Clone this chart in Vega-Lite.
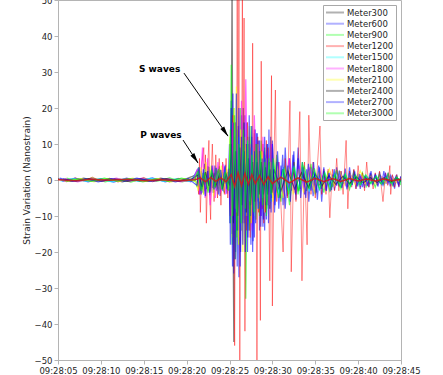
{
  "$schema": "https://vega.github.io/schema/vega-lite/v6.json",
  "width": 343,
  "height": 360,
  "autosize": {"type": "none"},
  "padding": {"left": 58, "top": 0, "right": 42, "bottom": 15},
  "background": "white",
  "config": {
    "font": "DejaVu Sans",
    "view": {"stroke": "#b4b4b4", "strokeWidth": 1},
    "axis": {"domainColor": "#b4b4b4", "tickColor": "#b4b4b4", "labelColor": "#262626", "labelFontSize": 8.5, "grid": false, "titleColor": "#262626", "titleFontWeight": "normal", "titleFontSize": 9},
    "legend": {"labelFont": "DejaVu Sans"}
  },
  "encoding": {
    "x": {"field": "t", "type": "quantitative", "scale": {"domain": [5, 45], "nice": false, "zero": false},
      "axis": {"title": null, "values": [5, 10, 15, 20, 25, 30, 35, 40, 45], "labelExpr": "'09:28:' + (datum.value < 10 ? '0' : '') + datum.value", "labelFlush": false, "labelOverlap": false, "tickSize": 4, "labelPadding": 2}},
    "y": {"field": "v", "type": "quantitative", "scale": {"domain": [-50, 50], "nice": false, "zero": false},
      "axis": {"title": "Strain Variation (Nanostrain)", "values": [-50, -40, -30, -20, -10, 0, 10, 20, 30, 40, 50], "labelFlush": false, "labelOverlap": false, "tickSize": 4, "labelPadding": 2, "titlePadding": 3}}
  },
  "layer": [
    {
      "data": {"values": [
        {"t":5.0,"v":0.3},{"t":6.5,"v":-0.4},{"t":8.0,"v":0.5},{"t":9.5,"v":-0.3},{"t":11.0,"v":0.4},{"t":12.5,"v":-0.5},{"t":14.0,"v":0.3},{"t":15.5,"v":-0.4},{"t":17.0,"v":0.5},{"t":18.5,"v":-0.3},{"t":20.0,"v":0.4},
        {"t":21.2,"v":1.5},{"t":21.4,"v":-2},{"t":21.6,"v":1},{"t":21.8,"v":-2.5},{"t":22.0,"v":2},{"t":22.2,"v":-1.2},{"t":22.4,"v":2.4},{"t":22.6,"v":-1.8},{"t":22.8,"v":1},{"t":23.0,"v":-2.2},{"t":23.2,"v":2},{"t":23.4,"v":-1.4},{"t":23.6,"v":2.6},{"t":23.8,"v":-1.6},{"t":24.0,"v":1.2},{"t":24.2,"v":-2.4},{"t":24.4,"v":1.8},{"t":24.6,"v":-1},{"t":24.8,"v":2.2},{"t":25.0,"v":-1.5},
        {"t":25.2,"v":8},{"t":25.3,"v":58},{"t":25.4,"v":-10},{"t":25.5,"v":-45},{"t":25.6,"v":12},{"t":25.8,"v":-14},{"t":26.0,"v":10},{"t":26.2,"v":-12},{"t":26.4,"v":9},{"t":26.6,"v":-11},{"t":26.8,"v":8},{"t":27.0,"v":-9},{"t":27.2,"v":7},{"t":27.4,"v":-8},{"t":27.6,"v":6},{"t":27.8,"v":-7},{"t":28.0,"v":6},{"t":28.2,"v":-5},{"t":28.4,"v":7},{"t":28.6,"v":-6},{"t":28.8,"v":5},{"t":29.0,"v":-6},{"t":29.2,"v":4},{"t":29.4,"v":-5},{"t":29.6,"v":4},{"t":29.8,"v":-4},{"t":30.0,"v":3},
        {"t":30.6,"v":-3.5},{"t":31.2,"v":3},{"t":31.8,"v":-3},{"t":32.4,"v":2.5},{"t":33.0,"v":-2.8},{"t":33.6,"v":2},{"t":34.2,"v":-2.2},{"t":34.8,"v":2},{"t":35.4,"v":-1.8},{"t":36.0,"v":1.6},{"t":36.6,"v":-1.5},{"t":37.2,"v":1.4},{"t":37.8,"v":-1.3},{"t":38.4,"v":1.2},{"t":39.0,"v":-1.2},{"t":39.6,"v":1},{"t":40.2,"v":-1},{"t":40.8,"v":1},{"t":41.4,"v":-0.9},{"t":42.0,"v":0.8},{"t":42.6,"v":-0.9},{"t":43.2,"v":0.8},{"t":43.8,"v":-0.7},{"t":44.4,"v":0.7},{"t":45.0,"v":-0.6}
      ]},
      "mark": {"type": "line", "clip": true, "strokeWidth": 1.2, "strokeOpacity": 0.5},
      "encoding": {"color": {"datum": "Meter300", "type": "nominal",
        "scale": {"domain": ["Meter300","Meter600","Meter900","Meter1200","Meter1500","Meter1800","Meter2100","Meter2400","Meter2700","Meter3000"],
                  "range": ["#000000","#0000ff","#00ff00","#ff0000","#00ffff","#ff00ff","#ffff00","#000000","#0000ff","#00ff00"]},
        "legend": {"title": null, "orient": "top-right", "offset": 5, "strokeColor": "#a8a8a8", "fillColor": "white", "padding": 2, "symbolType": "M-2,0H2", "symbolSize": 81, "symbolOffset": 4.5, "symbolStrokeWidth": 2, "symbolOpacity": 0.3, "labelFontSize": 8.5, "labelColor": "#262626", "rowPadding": 1.2, "labelOffset": 6.5}}}
    },
    {
      "data": {"values": [
        {"t":5.5,"v":-0.4},{"t":7.0,"v":0.5},{"t":8.5,"v":-0.5},{"t":10.0,"v":0.4},{"t":11.5,"v":-0.6},{"t":13.0,"v":0.5},{"t":14.5,"v":-0.4},{"t":16.0,"v":0.6},{"t":17.5,"v":-0.5},{"t":19.0,"v":0.4},{"t":20.5,"v":-0.5},
        {"t":21.3,"v":3},{"t":21.5,"v":-4},{"t":21.7,"v":2.5},{"t":21.9,"v":-3.5},{"t":22.1,"v":4.5},{"t":22.3,"v":-2.5},{"t":22.5,"v":3.8},{"t":22.7,"v":-4.2},{"t":22.9,"v":2},{"t":23.1,"v":-3.6},{"t":23.3,"v":4},{"t":23.5,"v":-3},{"t":23.7,"v":3.2},{"t":23.9,"v":-4.4},{"t":24.1,"v":2.8},{"t":24.3,"v":-3.2},{"t":24.5,"v":4.2},{"t":24.7,"v":-3.8},{"t":24.9,"v":3},
        {"t":25.0,"v":10},{"t":25.1,"v":-18},{"t":25.2,"v":22},{"t":25.3,"v":-15},{"t":25.4,"v":24},{"t":25.5,"v":-26},{"t":25.6,"v":12},{"t":25.7,"v":-20},{"t":25.8,"v":8},{"t":25.9,"v":-24},{"t":26.0,"v":15},{"t":26.1,"v":-27},{"t":26.2,"v":10},{"t":26.3,"v":-20},{"t":26.4,"v":18},{"t":26.5,"v":-12},
        {"t":26.6,"v":20},{"t":26.7,"v":-12},{"t":26.8,"v":18},{"t":26.9,"v":-8},{"t":27.0,"v":16},{"t":27.1,"v":-20},{"t":27.2,"v":10},{"t":27.3,"v":-14},{"t":27.4,"v":6},{"t":27.5,"v":-18},{"t":27.6,"v":12},{"t":27.7,"v":-20},{"t":27.8,"v":8},{"t":27.9,"v":-16},{"t":28.0,"v":14},
        {"t":28.1,"v":-7},{"t":28.2,"v":13},{"t":28.3,"v":-6},{"t":28.4,"v":11},{"t":28.5,"v":-14},{"t":28.6,"v":7},{"t":28.7,"v":-10},{"t":28.8,"v":4},{"t":28.9,"v":-13},{"t":29.0,"v":8},{"t":29.1,"v":-14},{"t":29.2,"v":6},{"t":29.3,"v":-11},{"t":29.4,"v":10},{"t":29.5,"v":-7},{"t":29.6,"v":14},{"t":29.7,"v":-8},{"t":29.8,"v":12},{"t":29.9,"v":-5},{"t":30.0,"v":11},
        {"t":30.25,"v":-9},{"t":30.5,"v":5},{"t":30.75,"v":-8},{"t":31.0,"v":4},{"t":31.25,"v":-7},{"t":31.5,"v":9},{"t":31.75,"v":-4.5},{"t":32.0,"v":6},{"t":32.25,"v":-3},{"t":32.5,"v":8},{"t":32.75,"v":-5.5},{"t":33.0,"v":9},
        {"t":33.25,"v":-2.5},{"t":33.5,"v":5},{"t":33.75,"v":-4},{"t":34.0,"v":3},{"t":34.25,"v":-6},{"t":34.5,"v":3.5},{"t":34.75,"v":-4.5},{"t":35.0,"v":2},{"t":35.25,"v":-5.5},{"t":35.5,"v":3.5},{"t":35.75,"v":-6},{"t":36.0,"v":2.5},
        {"t":36.25,"v":-3},{"t":36.5,"v":1.8},{"t":36.75,"v":-3.2},{"t":37.0,"v":1.5},{"t":37.25,"v":-2.8},{"t":37.5,"v":3.5},{"t":37.75,"v":-1.8},{"t":38.0,"v":2.4},{"t":38.25,"v":-1},{"t":38.5,"v":3.2},{"t":38.75,"v":-2},{"t":39.0,"v":3.5},{"t":39.25,"v":-1.4},{"t":39.5,"v":2.8},{"t":39.75,"v":-2.4},{"t":40.0,"v":1.8},
        {"t":40.25,"v":-2.5},{"t":40.5,"v":1.5},{"t":40.75,"v":-2.2},{"t":41.0,"v":1},{"t":41.25,"v":-2},{"t":41.5,"v":2.5},{"t":41.75,"v":-1.2},{"t":42.0,"v":1.8},{"t":42.25,"v":-0.8},{"t":42.5,"v":2.2},{"t":42.75,"v":-1.5},{"t":43.0,"v":2.5},{"t":43.25,"v":-1},{"t":43.5,"v":2},{"t":43.75,"v":-1.8},{"t":44.0,"v":1.2},{"t":44.25,"v":-2.4},{"t":44.5,"v":1.5},{"t":44.75,"v":-2},{"t":45.0,"v":1}
      ]},
      "mark": {"type": "line", "clip": true, "strokeWidth": 1.2, "strokeOpacity": 0.6},
      "encoding": {"color": {"datum": "Meter600", "type": "nominal"}}
    },
    {
      "data": {"values": [
        {"t":6.0,"v":0.5},{"t":7.5,"v":-0.4},{"t":9.0,"v":0.6},{"t":10.5,"v":-0.5},{"t":12.0,"v":0.4},{"t":13.5,"v":-0.6},{"t":15.0,"v":0.5},{"t":16.5,"v":-0.4},{"t":18.0,"v":0.6},{"t":19.5,"v":-0.5},{"t":21.0,"v":0.4},
        {"t":21.2,"v":-2},{"t":21.4,"v":3.5},{"t":21.6,"v":-3},{"t":21.8,"v":2},{"t":22.0,"v":-4},{"t":22.2,"v":3},{"t":22.4,"v":-2.2},{"t":22.6,"v":3.6},{"t":22.8,"v":-3.2},{"t":23.0,"v":1.8},{"t":23.2,"v":-3.4},{"t":23.4,"v":3.2},{"t":23.6,"v":-2.4},{"t":23.8,"v":3.8},{"t":24.0,"v":-2.6},{"t":24.2,"v":2.2},{"t":24.4,"v":-3.6},{"t":24.6,"v":3},{"t":24.8,"v":-2.8},{"t":25.0,"v":4},
        {"t":25.1,"v":-12},{"t":25.2,"v":32},{"t":25.3,"v":-18},{"t":25.5,"v":20},{"t":25.7,"v":-22},{"t":25.9,"v":14},{"t":26.1,"v":-18},{"t":26.3,"v":20},{"t":26.5,"v":-10},{"t":26.7,"v":16},{"t":26.9,"v":-33},{"t":27.1,"v":12},{"t":27.3,"v":-14},{"t":27.5,"v":15},{"t":27.7,"v":-9},{"t":27.9,"v":13},{"t":28.1,"v":-11},{"t":28.3,"v":8},{"t":28.5,"v":-10},{"t":28.7,"v":11},{"t":28.9,"v":-6},{"t":29.1,"v":9},{"t":29.3,"v":-10},{"t":29.5,"v":5},{"t":29.7,"v":-8},{"t":29.9,"v":9},{"t":30.1,"v":-5},
        {"t":30.5,"v":7},{"t":31.0,"v":-6},{"t":31.5,"v":4},{"t":32.0,"v":-7},{"t":32.5,"v":5},{"t":33.0,"v":-4},{"t":33.5,"v":5},{"t":34.0,"v":-3},{"t":34.5,"v":4.5},{"t":35.0,"v":-4},{"t":35.5,"v":2.5},{"t":36.0,"v":-3.5},{"t":36.5,"v":2.5},{"t":37.0,"v":-2},{"t":37.5,"v":2.8},{"t":38.0,"v":-2.4},{"t":38.5,"v":1.6},{"t":39.0,"v":-2.6},{"t":39.5,"v":2.2},{"t":40.0,"v":-1.5},{"t":40.5,"v":2},{"t":41.0,"v":-1.8},{"t":41.5,"v":1.2},{"t":42.0,"v":-2},{"t":42.5,"v":1.6},{"t":43.0,"v":-1.2},{"t":43.5,"v":1.8},{"t":44.0,"v":-1.5},{"t":44.5,"v":1},{"t":45.0,"v":-1.4}
      ]},
      "mark": {"type": "line", "clip": true, "strokeWidth": 1.2, "strokeOpacity": 0.6},
      "encoding": {"color": {"datum": "Meter900", "type": "nominal"}}
    },
    {
      "data": {"values": [
        {"t":5.0,"v":0.3},{"t":6.0,"v":-0.5},{"t":7.0,"v":0.6},{"t":8.0,"v":-0.3},{"t":9.0,"v":0.8},{"t":10.0,"v":-0.4},{"t":11.0,"v":0.5},{"t":12.0,"v":-0.6},{"t":13.0,"v":0.4},{"t":14.0,"v":-0.3},{"t":15.0,"v":0.7},{"t":16.0,"v":-0.5},{"t":17.0,"v":0.4},{"t":18.0,"v":-0.6},{"t":19.0,"v":0.5},{"t":20.0,"v":-0.4},{"t":21.0,"v":0.3},
        {"t":21.2,"v":2},{"t":21.4,"v":-4},{"t":21.5,"v":6},{"t":21.6,"v":-9},{"t":21.8,"v":5},{"t":22.0,"v":9},{"t":22.1,"v":-3},{"t":22.2,"v":7},{"t":22.3,"v":-12},{"t":22.5,"v":6},{"t":22.6,"v":11},{"t":22.7,"v":-5},{"t":22.8,"v":-11},{"t":22.9,"v":4},{"t":23.0,"v":10},{"t":23.2,"v":-6},{"t":23.4,"v":7},{"t":23.6,"v":-5},{"t":23.8,"v":6},{"t":24.0,"v":-7},{"t":24.2,"v":5},{"t":24.4,"v":-4},{"t":24.6,"v":6},{"t":24.8,"v":-5},{"t":25.0,"v":3},
        {"t":25.1,"v":-10},{"t":25.2,"v":14},{"t":25.3,"v":-8},{"t":25.4,"v":18},{"t":25.5,"v":-12},{"t":25.6,"v":-46},{"t":25.7,"v":16},{"t":25.8,"v":-10},{"t":25.9,"v":52},{"t":26.0,"v":-8},{"t":26.1,"v":55},{"t":26.2,"v":-55},{"t":26.3,"v":12},{"t":26.4,"v":-14},{"t":26.5,"v":55},{"t":26.6,"v":-10},{"t":26.7,"v":45},{"t":26.8,"v":-42},{"t":26.9,"v":10},{"t":27.0,"v":-14},{"t":27.1,"v":16},{"t":27.2,"v":-8},{"t":27.3,"v":12},{"t":27.4,"v":-16},{"t":27.5,"v":9},{"t":27.6,"v":-12},{"t":27.7,"v":38},{"t":27.8,"v":-10},{"t":27.9,"v":14},{"t":28.0,"v":-8},{"t":28.1,"v":10},{"t":28.2,"v":-55},{"t":28.3,"v":12},{"t":28.4,"v":-9},{"t":28.5,"v":8},{"t":28.6,"v":-39},{"t":28.7,"v":33},{"t":28.8,"v":-8},{"t":28.9,"v":10},{"t":29.0,"v":-12},{"t":29.1,"v":7},{"t":29.2,"v":-9},{"t":29.3,"v":11},{"t":29.4,"v":-6},{"t":29.5,"v":9},{"t":29.6,"v":-8},{"t":29.7,"v":-28},{"t":29.8,"v":8},{"t":29.9,"v":29},{"t":30.0,"v":-35},
        {"t":30.2,"v":7},{"t":30.35,"v":25},{"t":30.5,"v":-6},{"t":30.75,"v":5},{"t":31.0,"v":-7},{"t":31.25,"v":-20},{"t":31.5,"v":6},{"t":31.75,"v":-5},{"t":32.05,"v":22},{"t":32.2,"v":-25.5},{"t":32.5,"v":5},{"t":32.75,"v":-6},{"t":33.0,"v":4},{"t":33.2,"v":19},{"t":33.45,"v":-28},{"t":33.75,"v":5},{"t":34.05,"v":-18},{"t":34.25,"v":18},{"t":34.5,"v":-4},{"t":34.75,"v":5},{"t":35.0,"v":-5},{"t":35.25,"v":4},{"t":35.55,"v":15},{"t":35.75,"v":-4},{"t":36.0,"v":3},{"t":36.25,"v":-4},{"t":36.5,"v":3},{"t":36.7,"v":-10.5},{"t":37.0,"v":3},{"t":37.25,"v":-3},{"t":37.5,"v":6},{"t":37.75,"v":-3},{"t":38.0,"v":2.5},{"t":38.25,"v":-4},{"t":38.6,"v":11},{"t":38.8,"v":-8},{"t":39.0,"v":2.5},{"t":39.25,"v":-2},{"t":39.5,"v":3},{"t":39.75,"v":-2.5},{"t":40.0,"v":4},{"t":40.25,"v":-2},{"t":40.5,"v":2},{"t":40.75,"v":-3},{"t":41.0,"v":5},{"t":41.25,"v":-2},{"t":41.5,"v":1.5},{"t":41.75,"v":-2.5},{"t":42.0,"v":2},{"t":42.25,"v":-1.5},{"t":42.5,"v":2.5},{"t":42.9,"v":-6},{"t":43.2,"v":2},{"t":43.45,"v":-1.5},{"t":43.7,"v":4},{"t":43.8,"v":-4},{"t":44.0,"v":1.5},{"t":44.25,"v":-2},{"t":44.5,"v":1.5},{"t":44.75,"v":-1.8},{"t":45.0,"v":1}
      ]},
      "mark": {"type": "line", "clip": true, "strokeWidth": 1, "strokeOpacity": 0.45},
      "encoding": {"color": {"datum": "Meter1200", "type": "nominal"}}
    },
    {
      "data": {"values": [
        {"t":5.3,"v":-0.3},{"t":6.8,"v":0.4},{"t":8.3,"v":-0.4},{"t":9.8,"v":0.3},{"t":11.3,"v":-0.5},{"t":12.8,"v":0.4},{"t":14.3,"v":-0.3},{"t":15.8,"v":0.5},{"t":17.3,"v":-0.4},{"t":18.8,"v":0.3},{"t":20.3,"v":-0.4},
        {"t":21.3,"v":2},{"t":21.7,"v":-2.5},{"t":22.1,"v":3},{"t":22.5,"v":-2},{"t":22.9,"v":2.6},{"t":23.3,"v":-2.8},{"t":23.7,"v":1.8},{"t":24.1,"v":-2.4},{"t":24.5,"v":2.8},{"t":24.9,"v":-2},
        {"t":25.1,"v":8},{"t":25.35,"v":-12},{"t":25.6,"v":14},{"t":25.85,"v":-9},{"t":26.1,"v":12},{"t":26.35,"v":-14},{"t":26.6,"v":8},{"t":26.85,"v":-10},{"t":27.1,"v":11},{"t":27.35,"v":-6},{"t":27.6,"v":9},{"t":27.85,"v":-10},{"t":28.1,"v":6},{"t":28.35,"v":-8},{"t":28.6,"v":7},{"t":28.85,"v":-5},{"t":29.1,"v":7},{"t":29.35,"v":-6},{"t":29.6,"v":4},{"t":29.85,"v":-6},{"t":30.1,"v":5},
        {"t":30.7,"v":-4},{"t":31.3,"v":3.5},{"t":31.9,"v":-3},{"t":32.5,"v":4},{"t":33.1,"v":-2.5},{"t":33.7,"v":3},{"t":34.3,"v":-3.2},{"t":34.9,"v":2},{"t":35.5,"v":-2.6},{"t":36.1,"v":2.2},{"t":36.7,"v":-1.8},{"t":37.3,"v":2},{"t":37.9,"v":-1.5},{"t":38.5,"v":1.6},{"t":39.1,"v":-1.8},{"t":39.7,"v":1.2},{"t":40.3,"v":-1.4},{"t":40.9,"v":1.3},{"t":41.5,"v":-1},{"t":42.1,"v":1.2},{"t":42.7,"v":-1.1},{"t":43.3,"v":0.9},{"t":43.9,"v":-1},{"t":44.5,"v":0.8},{"t":45.0,"v":-0.7}
      ]},
      "mark": {"type": "line", "clip": true, "strokeWidth": 1.2, "strokeOpacity": 0.6},
      "encoding": {"color": {"datum": "Meter1500", "type": "nominal"}}
    },
    {
      "data": {"values": [
        {"t":5.8,"v":0.4},{"t":7.3,"v":-0.5},{"t":8.8,"v":0.4},{"t":10.3,"v":-0.3},{"t":11.8,"v":0.5},{"t":13.3,"v":-0.4},{"t":14.8,"v":0.5},{"t":16.3,"v":-0.3},{"t":17.8,"v":0.4},{"t":19.3,"v":-0.5},{"t":20.8,"v":0.3},
        {"t":21.25,"v":3},{"t":21.55,"v":-4},{"t":21.85,"v":9},{"t":22.15,"v":-5},{"t":22.45,"v":6},{"t":22.75,"v":-7},{"t":23.05,"v":4},{"t":23.35,"v":-5},{"t":23.65,"v":5},{"t":23.95,"v":-3.5},{"t":24.25,"v":4.5},{"t":24.55,"v":-4},{"t":24.85,"v":3},
        {"t":25.15,"v":-10},{"t":25.4,"v":16},{"t":25.65,"v":-14},{"t":25.9,"v":10},{"t":26.15,"v":-16},{"t":26.4,"v":22},{"t":26.65,"v":-12},{"t":26.9,"v":28},{"t":27.15,"v":-12},{"t":27.4,"v":10},{"t":27.65,"v":-14},{"t":27.9,"v":18},{"t":28.15,"v":-7},{"t":28.4,"v":9},{"t":28.65,"v":-10},{"t":28.9,"v":12},{"t":29.15,"v":-6},{"t":29.4,"v":8},{"t":29.65,"v":-7},{"t":29.9,"v":10},{"t":30.15,"v":-5},
        {"t":30.75,"v":5},{"t":31.35,"v":-4.5},{"t":31.95,"v":6},{"t":32.55,"v":-3.5},{"t":33.15,"v":4},{"t":33.75,"v":-3},{"t":34.35,"v":3.5},{"t":34.95,"v":-2.8},{"t":35.55,"v":2.5},{"t":36.15,"v":-2.4},{"t":36.75,"v":2},{"t":37.35,"v":-1.8},{"t":37.95,"v":1.6},{"t":38.55,"v":-1.5},{"t":39.15,"v":1.4},{"t":39.75,"v":-1.2},{"t":40.35,"v":1.1},{"t":40.95,"v":-1.2},{"t":41.55,"v":1},{"t":42.15,"v":-0.9},{"t":42.75,"v":1},{"t":43.35,"v":-0.8},{"t":43.95,"v":0.9},{"t":44.55,"v":-0.7},{"t":45.0,"v":0.6}
      ]},
      "mark": {"type": "line", "clip": true, "strokeWidth": 1.2, "strokeOpacity": 0.6},
      "encoding": {"color": {"datum": "Meter1800", "type": "nominal"}}
    },
    {
      "data": {"values": [
        {"t":6.2,"v":-0.3},{"t":7.7,"v":0.4},{"t":9.2,"v":-0.5},{"t":10.7,"v":0.3},{"t":12.2,"v":-0.4},{"t":13.7,"v":0.5},{"t":15.2,"v":-0.3},{"t":16.7,"v":0.4},{"t":18.2,"v":-0.5},{"t":19.7,"v":0.3},{"t":21.1,"v":-0.4},
        {"t":21.35,"v":-3},{"t":21.65,"v":3.5},{"t":21.95,"v":-4},{"t":22.25,"v":5},{"t":22.55,"v":-3},{"t":22.85,"v":4},{"t":23.15,"v":-4.5},{"t":23.45,"v":3},{"t":23.75,"v":-3.5},{"t":24.05,"v":4},{"t":24.35,"v":-3},{"t":24.65,"v":3.5},{"t":24.95,"v":-2.5},
        {"t":25.05,"v":12},{"t":25.3,"v":-16},{"t":25.55,"v":20},{"t":25.68,"v":-8},{"t":25.8,"v":26},{"t":26.05,"v":-18},{"t":26.3,"v":14},{"t":26.55,"v":-20},{"t":26.8,"v":12},{"t":27.05,"v":-10},{"t":27.3,"v":15},{"t":27.55,"v":-12},{"t":27.8,"v":8},{"t":28.05,"v":-11},{"t":28.3,"v":10},{"t":28.55,"v":-6},{"t":28.8,"v":8},{"t":29.05,"v":-9},{"t":29.3,"v":6},{"t":29.55,"v":-7},{"t":29.8,"v":5},{"t":30.05,"v":-6},
        {"t":30.65,"v":4},{"t":31.25,"v":-5},{"t":31.85,"v":3.5},{"t":32.45,"v":-4},{"t":33.05,"v":3},{"t":33.65,"v":-3.5},{"t":34.25,"v":2.8},{"t":34.85,"v":-3},{"t":35.45,"v":2.2},{"t":36.05,"v":-2},{"t":36.65,"v":3},{"t":37.25,"v":-1.6},{"t":37.85,"v":2.4},{"t":38.45,"v":-1.4},{"t":39.05,"v":1.6},{"t":39.65,"v":-1.3},{"t":40.25,"v":2.5},{"t":40.85,"v":-1},{"t":41.45,"v":1.2},{"t":42.05,"v":-1},{"t":42.65,"v":0.9},{"t":43.25,"v":-0.8},{"t":43.85,"v":1},{"t":44.45,"v":-0.7},{"t":45.0,"v":0.6}
      ]},
      "mark": {"type": "line", "clip": true, "strokeWidth": 1.2, "strokeOpacity": 0.6},
      "encoding": {"color": {"datum": "Meter2100", "type": "nominal"}}
    },
    {
      "data": {"values": [
        {"t":5.6,"v":0.3},{"t":7.1,"v":-0.3},{"t":8.6,"v":0.4},{"t":10.1,"v":-0.3},{"t":11.6,"v":0.3},{"t":13.1,"v":-0.4},{"t":14.6,"v":0.3},{"t":16.1,"v":-0.3},{"t":17.6,"v":0.4},{"t":19.1,"v":-0.3},{"t":20.6,"v":0.3},
        {"t":21.4,"v":1.5},{"t":21.8,"v":-2},{"t":22.2,"v":2.2},{"t":22.6,"v":-1.6},{"t":23.0,"v":2},{"t":23.4,"v":-1.8},{"t":23.8,"v":1.4},{"t":24.2,"v":-2},{"t":24.6,"v":1.6},{"t":25.0,"v":-1.5},
        {"t":25.2,"v":10},{"t":25.45,"v":-12},{"t":25.7,"v":8},{"t":25.95,"v":-10},{"t":26.2,"v":9},{"t":26.45,"v":-7},{"t":26.7,"v":8},{"t":26.95,"v":-9},{"t":27.2,"v":6},{"t":27.45,"v":-7},{"t":27.7,"v":5},{"t":27.95,"v":-6},{"t":28.2,"v":5},{"t":28.45,"v":-4},{"t":28.7,"v":5},{"t":28.95,"v":-4},{"t":29.2,"v":3.5},{"t":29.45,"v":-4},{"t":29.7,"v":3},{"t":29.95,"v":-3.5},{"t":30.2,"v":3},
        {"t":31.0,"v":-3},{"t":31.8,"v":2.5},{"t":32.6,"v":-2.5},{"t":33.4,"v":2},{"t":34.2,"v":-2},{"t":35.0,"v":1.6},{"t":35.8,"v":-1.5},{"t":36.6,"v":1.2},{"t":37.4,"v":-1.2},{"t":38.2,"v":1},{"t":39.0,"v":-1},{"t":39.8,"v":0.8},{"t":40.6,"v":-0.8},{"t":41.4,"v":0.7},{"t":42.2,"v":-0.7},{"t":43.0,"v":0.6},{"t":43.8,"v":-0.6},{"t":44.6,"v":0.5},{"t":45.0,"v":-0.4}
      ]},
      "mark": {"type": "line", "clip": true, "strokeWidth": 1.2, "strokeOpacity": 0.5},
      "encoding": {"color": {"datum": "Meter2400", "type": "nominal"}}
    },
    {
      "data": {"values": [
        {"t":5.2,"v":0.5},{"t":6.7,"v":-0.4},{"t":8.2,"v":0.3},{"t":9.7,"v":-0.5},{"t":11.2,"v":0.4},{"t":12.7,"v":-0.3},{"t":14.2,"v":0.5},{"t":15.7,"v":-0.4},{"t":17.2,"v":0.3},{"t":18.7,"v":-0.5},{"t":20.2,"v":0.4},
        {"t":21.2,"v":-1.5},{"t":21.45,"v":3.5},{"t":21.7,"v":-4},{"t":21.95,"v":3},{"t":22.2,"v":-4.5},{"t":22.45,"v":2.5},{"t":22.7,"v":-3.5},{"t":22.95,"v":4},{"t":23.2,"v":-2.6},{"t":23.45,"v":3.4},{"t":23.7,"v":-4},{"t":23.95,"v":2.8},{"t":24.2,"v":-3},{"t":24.45,"v":3.8},{"t":24.7,"v":-2.4},{"t":24.95,"v":3.2},
        {"t":25.05,"v":-12},{"t":25.2,"v":20},{"t":25.35,"v":-24},{"t":25.5,"v":16},{"t":25.65,"v":-22},{"t":25.8,"v":24},{"t":25.95,"v":-14},{"t":26.1,"v":20},{"t":26.25,"v":-24},{"t":26.4,"v":12},{"t":26.55,"v":-18},{"t":26.7,"v":16},{"t":26.85,"v":-20},{"t":27.0,"v":10},{"t":27.15,"v":-16},{"t":27.3,"v":18},{"t":27.45,"v":-10},{"t":27.6,"v":15},{"t":27.75,"v":-17},{"t":27.9,"v":8},{"t":28.05,"v":-12},{"t":28.2,"v":13},{"t":28.35,"v":-8},{"t":28.5,"v":11},{"t":28.65,"v":-13},{"t":28.8,"v":6},{"t":28.95,"v":-11},{"t":29.1,"v":12},{"t":29.25,"v":-7},{"t":29.4,"v":10},{"t":29.55,"v":-12},{"t":29.7,"v":5},{"t":29.85,"v":-9},{"t":30.0,"v":10},
        {"t":30.3,"v":-7},{"t":30.6,"v":8},{"t":30.9,"v":-5},{"t":31.2,"v":7},{"t":31.5,"v":-8},{"t":31.8,"v":4},{"t":32.1,"v":-6},{"t":32.4,"v":7},{"t":32.7,"v":-4},{"t":33.0,"v":6},{"t":33.3,"v":-5},{"t":33.6,"v":3.5},{"t":33.9,"v":-5},{"t":34.2,"v":4.5},{"t":34.5,"v":-3},{"t":34.8,"v":5},{"t":35.1,"v":-3.5},{"t":35.4,"v":4},{"t":35.7,"v":-2.5},{"t":36.0,"v":3.5},{"t":36.3,"v":-3},{"t":36.6,"v":2},{"t":36.9,"v":-2.8},{"t":37.2,"v":3},{"t":37.5,"v":-1.6},{"t":37.8,"v":2.6},{"t":38.1,"v":-2.2},{"t":38.4,"v":1.5},{"t":38.7,"v":-2.6},{"t":39.0,"v":2},{"t":39.3,"v":-1.4},{"t":39.6,"v":2.4},{"t":39.9,"v":-1.8},{"t":40.2,"v":1.6},{"t":40.5,"v":-2},{"t":40.8,"v":1.2},{"t":41.1,"v":-1.6},{"t":41.4,"v":2},{"t":41.7,"v":-1},{"t":42.0,"v":1.5},{"t":42.3,"v":-1.8},{"t":42.6,"v":1},{"t":42.9,"v":-1.4},{"t":43.2,"v":1.6},{"t":43.5,"v":-0.9},{"t":43.8,"v":1.2},{"t":44.1,"v":-1.5},{"t":44.4,"v":0.9},{"t":44.7,"v":-1.2},{"t":45.0,"v":1}
      ]},
      "mark": {"type": "line", "clip": true, "strokeWidth": 1.2, "strokeOpacity": 0.6},
      "encoding": {"color": {"datum": "Meter2700", "type": "nominal"}}
    },
    {
      "data": {"values": [
        {"t":5.9,"v":-0.4},{"t":7.4,"v":0.3},{"t":8.9,"v":-0.4},{"t":10.4,"v":0.5},{"t":11.9,"v":-0.3},{"t":13.4,"v":0.4},{"t":14.9,"v":-0.5},{"t":16.4,"v":0.3},{"t":17.9,"v":-0.4},{"t":19.4,"v":0.5},{"t":20.9,"v":-0.3},
        {"t":21.3,"v":2.5},{"t":21.7,"v":-3},{"t":22.1,"v":2},{"t":22.5,"v":-3.5},{"t":22.9,"v":2.8},{"t":23.3,"v":-2},{"t":23.7,"v":3},{"t":24.1,"v":-2.6},{"t":24.5,"v":2.2},{"t":24.9,"v":-3},
        {"t":25.1,"v":14},{"t":25.35,"v":-10},{"t":25.6,"v":18},{"t":25.85,"v":-16},{"t":26.1,"v":10},{"t":26.35,"v":-12},{"t":26.6,"v":14},{"t":26.85,"v":-8},{"t":27.1,"v":11},{"t":27.35,"v":-12},{"t":27.6,"v":7},{"t":27.85,"v":-9},{"t":28.1,"v":10},{"t":28.35,"v":-5},{"t":28.6,"v":8},{"t":28.85,"v":-7},{"t":29.1,"v":5},{"t":29.35,"v":-8},{"t":29.6,"v":6},{"t":29.85,"v":-4},{"t":30.1,"v":6},
        {"t":30.7,"v":-5},{"t":31.3,"v":3},{"t":31.9,"v":-4},{"t":32.5,"v":3.5},{"t":33.1,"v":-3},{"t":33.7,"v":4},{"t":34.3,"v":-2.5},{"t":34.9,"v":3.2},{"t":35.5,"v":-2.6},{"t":36.1,"v":2},{"t":36.7,"v":-3},{"t":37.3,"v":1.6},{"t":37.9,"v":-2},{"t":38.5,"v":1.5},{"t":39.1,"v":-1.6},{"t":39.7,"v":1.3},{"t":40.3,"v":-1.2},{"t":40.9,"v":1.4},{"t":41.5,"v":-1},{"t":42.1,"v":1},{"t":42.7,"v":-1.1},{"t":43.3,"v":0.8},{"t":43.9,"v":-0.9},{"t":44.5,"v":0.7},{"t":45.0,"v":-0.6}
      ]},
      "mark": {"type": "line", "clip": true, "strokeWidth": 1.2, "strokeOpacity": 0.6},
      "encoding": {"color": {"datum": "Meter3000", "type": "nominal"}}
    },
    {
      "data": {"values": [
        {"t":5.0,"v":0.1},{"t":7.0,"v":-0.2},{"t":9.0,"v":0.2},{"t":11.0,"v":-0.1},{"t":13.0,"v":0.2},{"t":15.0,"v":-0.2},{"t":17.0,"v":0.1},{"t":19.0,"v":-0.2},{"t":21.0,"v":0.1},
        {"t":21.6,"v":0.6},{"t":22.2,"v":-0.5},{"t":22.8,"v":0.7},{"t":23.4,"v":-0.4},{"t":24.0,"v":0.6},{"t":24.6,"v":-0.5},{"t":25.2,"v":1.5},{"t":25.6,"v":-1.8},{"t":26.0,"v":2},{"t":26.4,"v":-1.5},{"t":26.8,"v":1.8},{"t":27.2,"v":-1.2},{"t":27.6,"v":1.5},{"t":28.0,"v":-1},{"t":28.5,"v":1.2},{"t":29.0,"v":-1.2},{"t":29.5,"v":0.9},{"t":30.0,"v":-1},{"t":31.0,"v":0.8},{"t":32.0,"v":-0.8},{"t":33.0,"v":0.6},{"t":34.0,"v":-0.6},{"t":35.0,"v":0.5},{"t":36.0,"v":-0.5},{"t":37.0,"v":0.4},{"t":38.0,"v":-0.4},{"t":39.0,"v":0.4},{"t":40.0,"v":-0.3},{"t":41.0,"v":0.3},{"t":42.0,"v":-0.3},{"t":43.0,"v":0.3},{"t":44.0,"v":-0.2},{"t":45.0,"v":0.2}
      ]},
      "mark": {"type": "line", "clip": true, "strokeWidth": 1.5, "color": "#c81e1e", "strokeOpacity": 0.9},
      "encoding": {}
    },
    {
      "data": {"values": [
        {"t":19.69,"v":29.7,"t2":24.83,"v2":12.2},
        {"t":19.58,"v":11.1,"t2":21.33,"v2":4.7}
      ]},
      "mark": {"type": "rule", "color": "black", "strokeWidth": 1},
      "encoding": {"x2": {"field": "t2"}, "y2": {"field": "v2"}}
    },
    {
      "data": {"values": [
        {"t":24.50,"v":13.3},
        {"t":21.01,"v":5.9}
      ]},
      "mark": {"type": "point", "shape": "M0,-1L-0.45,1L0.45,1Z", "filled": true, "color": "black", "opacity": 1, "size": 110, "angle": 146}
    },
    {
      "data": {"values": [
        {"t":16.85,"v":30.8,"label":"S waves"},
        {"t":17.0,"v":12.5,"label":"P waves"}
      ]},
      "mark": {"type": "text", "fontWeight": "bold", "fontSize": 9, "color": "black", "font": "DejaVu Sans"},
      "encoding": {"text": {"field": "label"}}
    }
  ]
}
